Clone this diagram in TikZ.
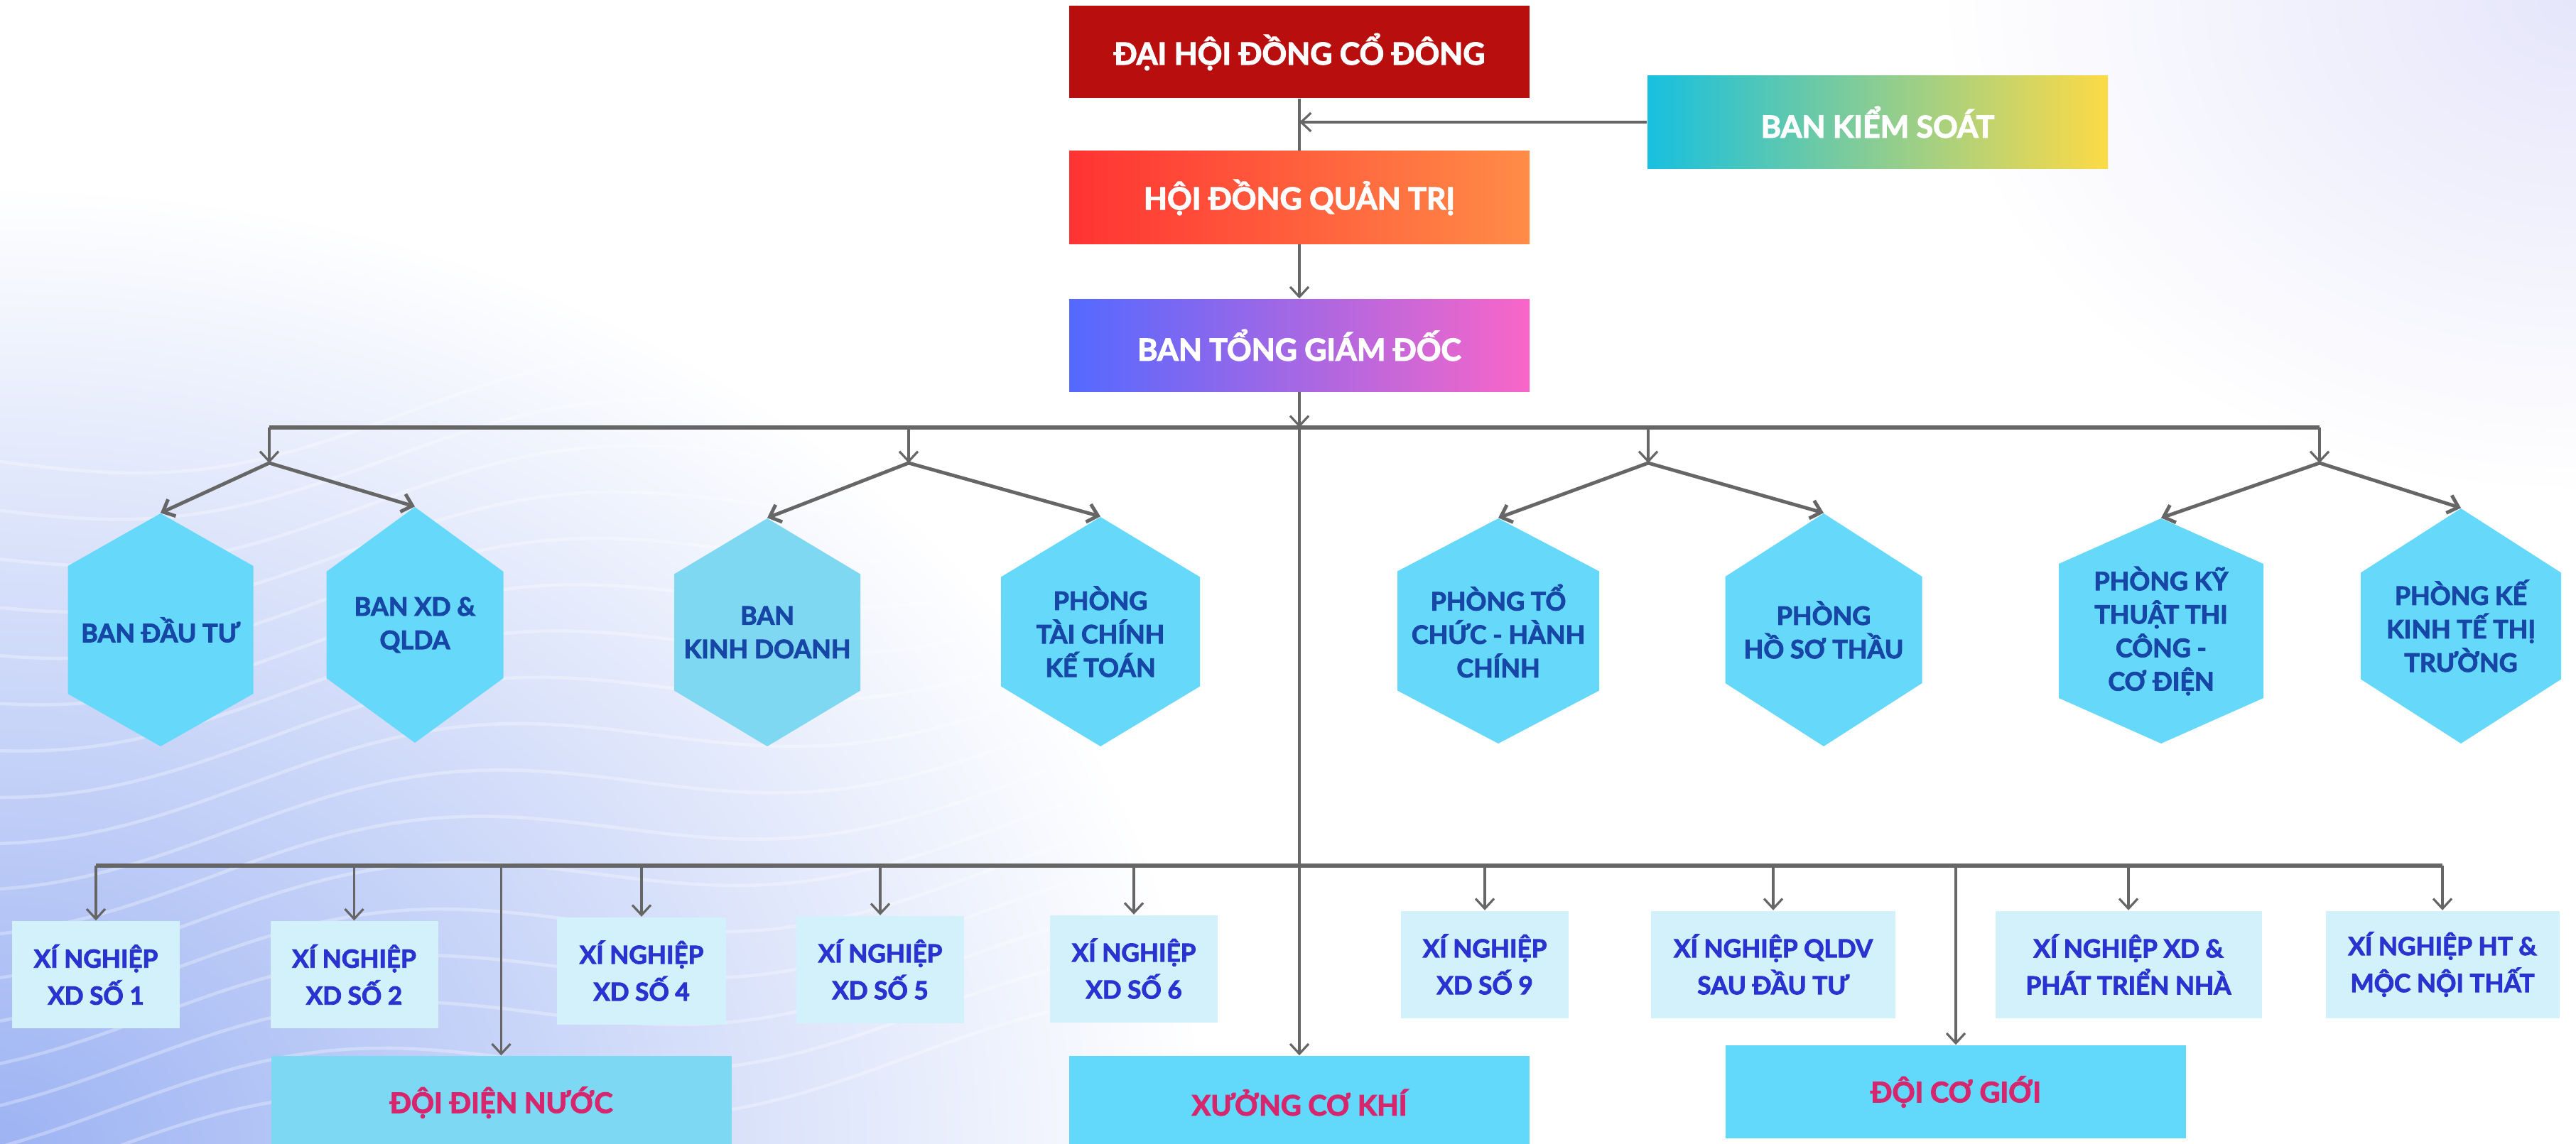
\documentclass[tikz,border=0pt]{standalone}
\usepackage{fontspec}
\setmainfont{Lato}[BoldFeatures={FakeBold=2.6}]
\usetikzlibrary{arrows.meta}

\definecolor{redtop}{HTML}{B90E0E}
\definecolor{hqleft}{HTML}{FF3333}
\definecolor{hqright}{HTML}{FF8C47}
\definecolor{tgleft}{HTML}{5369FF}
\definecolor{tgright}{HTML}{F966C8}
\definecolor{ksleft}{HTML}{17C0DF}
\definecolor{ksright}{HTML}{FDDA46}
\definecolor{hexcyan}{HTML}{66D9FA}
\definecolor{hexpale}{HTML}{7ED8F2}
\definecolor{xnfill}{HTML}{D2F1FB}
\definecolor{doifill}{HTML}{62D9FA}
\definecolor{doipale}{HTML}{7DD9F3}
\definecolor{hextxt}{HTML}{1747A6}
\definecolor{xntxt}{HTML}{2A33CF}
\definecolor{doitxt}{HTML}{D6266E}
\definecolor{linegray}{HTML}{666666}
\definecolor{bgblue}{HTML}{9DB3F3}
\definecolor{bglav}{HTML}{E6E6FB}

\tikzset{
  topbox/.style={minimum width=6.48cm, minimum height=1.3cm, inner sep=0pt, text=white,
    font=\fontsize{12.2}{14}\selectfont\bfseries},
  hextext/.style={inner sep=0pt, align=center, text=hextxt,
    font=\fontsize{10.2}{13.4}\selectfont\bfseries},
  xnbox/.style={fill=xnfill, minimum height=1.51cm, inner sep=0pt, align=center, text=xntxt,
    font=\fontsize{10}{14.8}\selectfont\bfseries},
  doibox/.style={fill=doifill, minimum width=6.48cm, minimum height=1.31cm, inner sep=0pt,
    text=doitxt, font=\fontsize{11.3}{13}\selectfont\bfseries},
  conn/.style={draw=linegray, line width=0.9pt},
  bus/.style={draw=linegray, line width=1.7pt},
  diag/.style={draw=linegray, line width=1.4pt},
}

% name, x, y, half width, half height, half side, fill, text
\newcommand{\hexnode}[8]{%
  \fill[#7] (#2,#3-#5) -- (#2+#4,#3-#6) -- (#2+#4,#3+#6) -- (#2,#3+#5)
    -- (#2-#4,#3+#6) -- (#2-#4,#3-#6) -- cycle;
  \node[hextext, minimum height=#5*2cm] (#1) at (#2,#3) {#8};
}

\begin{document}
\begin{tikzpicture}[x=1cm,y=-1cm,>={Straight Barb[length=1.4mm,width=2.6mm]}]
\useasboundingbox (0,0) rectangle (36.26,16.11);
% background
\begin{scope}
  \clip (0,0) rectangle (36.26,16.11);
  \fill[white] (0,0) rectangle (36.26,16.11);
  \shade[inner color=bglav, outer color=white] (36.26,0) ellipse (9 and 7);
  \shade[inner color=bgblue, outer color=white] (0,16.11) ellipse (17 and 13.5);
  \foreach \k in {0,...,16}
    \draw[white, opacity=.3, line width=1.3pt, domain=0:15, samples=50, variable=\x]
      plot ({\x}, {6.5+\k*0.62 - 0.12*\x + 0.45*sin(deg(\x*0.55+\k*0.15))});
\end{scope}

% top
\node[topbox, fill=redtop] (dhdcd) at (18.29,0.73) {ĐẠI HỘI ĐỒNG CỔ ĐÔNG};
\node[topbox, left color=hqleft, right color=hqright] (hdqt) at (18.29,2.78) {HỘI ĐỒNG QUẢN TRỊ};
\node[topbox, left color=tgleft, right color=tgright] (btgd) at (18.29,4.86) {BAN TỔNG GIÁM ĐỐC};
\node[topbox, left color=ksleft, right color=ksright] (bks) at (26.43,1.72) {BAN KIỂM SOÁT};

\draw[conn] (dhdcd.south) -- (hdqt.north);
\draw[conn,->] (bks.west) -- (bks.west -| dhdcd.south);
\draw[conn,->] (hdqt.south) -- (btgd.north);

% phong ban
\coordinate (busA) at (3.79,6.02);
\coordinate (busB) at (32.65,6.02);
\draw[bus] (busA) -- (busB);
\draw[conn,->] (btgd.south) -- (btgd.south |- busA);
\foreach \n/\x in {a1/3.79, a2/12.79, a3/23.20, a4/32.65}{
  \coordinate (\n) at (\x,6.52);
  \draw[conn,->] (\x,6.02) -- (\n);
}

\hexnode{bdt}{2.26}{8.87}{1.305}{1.64}{0.90}{hexcyan}{BAN ĐẦU TƯ}
\hexnode{bqlda}{5.84}{8.80}{1.245}{1.66}{0.75}{hexcyan}{BAN XD \& \\ QLDA}
\hexnode{bkd}{10.80}{8.905}{1.31}{1.605}{0.82}{hexpale}{BAN \\ KINH DOANH}
\hexnode{ptckt}{15.49}{8.895}{1.40}{1.615}{0.77}{hexcyan}{PHÒNG \\ TÀI CHÍNH \\ KẾ TOÁN}
\hexnode{ptchc}{21.09}{8.885}{1.42}{1.585}{0.84}{hexcyan}{PHÒNG TỔ \\ CHỨC - HÀNH \\ CHÍNH}
\hexnode{phst}{25.67}{8.87}{1.385}{1.64}{0.75}{hexcyan}{PHÒNG \\ HỒ SƠ THẦU}
\hexnode{pktcd}{30.42}{8.885}{1.44}{1.585}{0.945}{hexcyan}{PHÒNG KỸ \\ THUẬT THI \\ CÔNG - \\ CƠ ĐIỆN}
\hexnode{pktt}{34.64}{8.815}{1.41}{1.655}{0.75}{hexcyan}{PHÒNG KẾ \\ KINH TẾ THỊ \\ TRƯỜNG}

\draw[diag,->] (a1) -- (bdt.north);
\draw[diag,->] (a1) -- (bqlda.north);
\draw[diag,->] (a2) -- (bkd.north);
\draw[diag,->] (a2) -- (ptckt.north);
\draw[diag,->] (a3) -- (ptchc.north);
\draw[diag,->] (a3) -- (phst.north);
\draw[diag,->] (a4) -- (pktcd.north);
\draw[diag,->] (a4) -- (pktt.north);

% xi nghiep
\node[xnbox, minimum width=2.36cm] (xn1) at (1.35,13.725) {XÍ NGHIỆP \\ XD SỐ 1};
\node[xnbox, minimum width=2.36cm] (xn2) at (4.985,13.725) {XÍ NGHIỆP \\ XD SỐ 2};
\node[xnbox, minimum width=2.38cm] (xn4) at (9.03,13.67) {XÍ NGHIỆP \\ XD SỐ 4};
\node[xnbox, minimum width=2.36cm] (xn5) at (12.39,13.65) {XÍ NGHIỆP \\ XD SỐ 5};
\node[xnbox, minimum width=2.36cm] (xn6) at (15.96,13.64) {XÍ NGHIỆP \\ XD SỐ 6};
\node[xnbox, minimum width=2.36cm] (xn9) at (20.90,13.58) {XÍ NGHIỆP \\ XD SỐ 9};
\node[xnbox, minimum width=3.44cm] (xnql) at (24.96,13.58) {XÍ NGHIỆP QLDV \\ SAU ĐẦU TƯ};
\node[xnbox, minimum width=3.75cm] (xnpt) at (29.96,13.58) {XÍ NGHIỆP XD \& \\ PHÁT TRIỂN NHÀ};
\node[xnbox, minimum width=3.29cm] (xnht) at (34.38,13.58) {XÍ NGHIỆP HT \& \\ MỘC NỘI THẤT};

\node[doibox, fill=doipale] (ddn) at (7.055,15.525) {ĐỘI ĐIỆN NƯỚC};
\node[doibox] (xck) at (18.29,15.525) {XƯỞNG CƠ KHÍ};
\node[doibox] (dcg) at (27.53,15.375) {ĐỘI CƠ GIỚI};

\coordinate (busC) at (1.35,12.19);
\coordinate (busD) at (34.38,12.19);
\draw[bus] (busC) -- (busD);
\foreach \n in {xn1,xn2,xn4,xn5,xn6,xn9,xnql,xnpt,xnht,ddn,dcg}
  \draw[conn,->] (\n.north |- busC) -- (\n.north);
\draw[conn,->] (btgd.south) -- (xck.north);
\end{tikzpicture}
\end{document}
